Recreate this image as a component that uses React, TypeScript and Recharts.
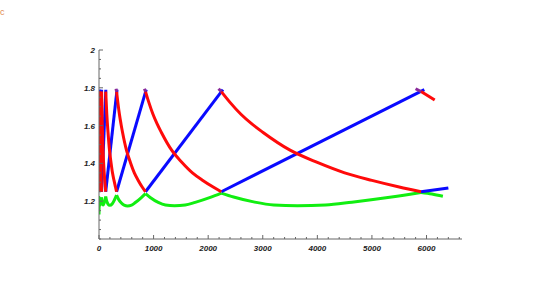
import { LineChart, Line, XAxis, YAxis } from "recharts";

type Pt = { x: number; y: number };

// blue rises linearly from one peak to the next
const blueSegs: Pt[][] = [
  [{ x: 0, y: 1.25 }, { x: 7, y: 1.79 }],
  [{ x: 7, y: 1.25 }, { x: 18, y: 1.79 }],
  [{ x: 18, y: 1.25 }, { x: 47, y: 1.79 }],
  [{ x: 47, y: 1.25 }, { x: 125, y: 1.79 }],
  [{ x: 123, y: 1.25 }, { x: 330, y: 1.79 }],
  [{ x: 322, y: 1.25 }, { x: 865, y: 1.79 }],
  [{ x: 852, y: 1.25 }, { x: 2270, y: 1.79 }],
  [{ x: 2240, y: 1.25 }, { x: 5960, y: 1.79 }],
  [{ x: 5900, y: 1.25 }, { x: 6400, y: 1.27 }],
];

const redSegs: Pt[][] = [
  [{ x: 7, y: 1.78 }, { x: 11, y: 1.5 }, { x: 18, y: 1.25 }],
  [{ x: 18, y: 1.78 }, { x: 25, y: 1.55 }, { x: 33, y: 1.4 }, { x: 47, y: 1.25 }],
  [{ x: 47, y: 1.78 }, { x: 60, y: 1.6 }, { x: 75, y: 1.46 }, { x: 95, y: 1.35 }, { x: 123, y: 1.25 }],
  [
    { x: 123, y: 1.78 }, { x: 143, y: 1.66 }, { x: 165, y: 1.565 }, { x: 192, y: 1.47 },
    { x: 220, y: 1.405 }, { x: 247, y: 1.35 }, { x: 275, y: 1.31 }, { x: 302, y: 1.275 }, { x: 322, y: 1.25 },
  ],
  [
    { x: 322, y: 1.78 }, { x: 345, y: 1.723 }, { x: 374, y: 1.66 }, { x: 403, y: 1.609 }, { x: 431, y: 1.565 },
    { x: 503, y: 1.47 }, { x: 575, y: 1.405 }, { x: 647, y: 1.35 }, { x: 719, y: 1.31 }, { x: 791, y: 1.275 },
    { x: 852, y: 1.25 },
  ],
  [
    { x: 852, y: 1.78 }, { x: 913, y: 1.723 }, { x: 989, y: 1.66 }, { x: 1065, y: 1.609 }, { x: 1141, y: 1.565 },
    { x: 1331, y: 1.47 }, { x: 1521, y: 1.405 }, { x: 1712, y: 1.35 }, { x: 1902, y: 1.31 }, { x: 2092, y: 1.275 },
    { x: 2240, y: 1.25 },
  ],
  [
    { x: 2240, y: 1.78 }, { x: 2400, y: 1.723 }, { x: 2600, y: 1.66 }, { x: 2800, y: 1.609 }, { x: 3000, y: 1.565 },
    { x: 3500, y: 1.47 }, { x: 4000, y: 1.405 }, { x: 4500, y: 1.35 }, { x: 5000, y: 1.31 }, { x: 5500, y: 1.275 },
    { x: 5900, y: 1.25 },
  ],
  [{ x: 5900, y: 1.78 }, { x: 6150, y: 1.735 }],
];

// short purple ticks where red and blue meet at each peak
const peakMarks: Pt[][] = [
  [{ x: 2190, y: 1.795 }, { x: 2240, y: 1.78 }],
  [{ x: 832, y: 1.795 }, { x: 852, y: 1.78 }],
  [{ x: 312, y: 1.795 }, { x: 322, y: 1.78 }],
  [{ x: 5800, y: 1.795 }, { x: 5900, y: 1.78 }],
];

const greenSegs: Pt[][] = [
  [{ x: 0, y: 1.13 }, { x: 4, y: 1.2 }, { x: 7, y: 1.22 }, { x: 12, y: 1.18 }, { x: 18, y: 1.21 }],
  [{ x: 18, y: 1.21 }, { x: 29, y: 1.18 }, { x: 47, y: 1.22 }],
  [{ x: 47, y: 1.22 }, { x: 60, y: 1.19 }, { x: 76, y: 1.18 }, { x: 95, y: 1.19 }, { x: 123, y: 1.225 }],
  [
    { x: 123, y: 1.225 }, { x: 142, y: 1.2 }, { x: 165, y: 1.185 }, { x: 199, y: 1.178 },
    { x: 240, y: 1.185 }, { x: 280, y: 1.205 }, { x: 322, y: 1.232 },
  ],
  [
    { x: 322, y: 1.232 }, { x: 355, y: 1.212 }, { x: 410, y: 1.19 }, { x: 460, y: 1.179 }, { x: 523, y: 1.175 },
    { x: 597, y: 1.179 }, { x: 666, y: 1.193 }, { x: 771, y: 1.218 }, { x: 852, y: 1.24 },
  ],
  [
    { x: 852, y: 1.24 }, { x: 938, y: 1.22 }, { x: 1085, y: 1.194 }, { x: 1217, y: 1.18 }, { x: 1383, y: 1.176 },
    { x: 1579, y: 1.18 }, { x: 1762, y: 1.194 }, { x: 2039, y: 1.22 }, { x: 2240, y: 1.243 },
  ],
  [
    { x: 2240, y: 1.243 }, { x: 2466, y: 1.222 }, { x: 2853, y: 1.195 }, { x: 3200, y: 1.18 }, { x: 3635, y: 1.176 },
    { x: 4150, y: 1.18 }, { x: 4632, y: 1.195 }, { x: 5360, y: 1.222 }, { x: 5900, y: 1.246 },
  ],
  [{ x: 5900, y: 1.246 }, { x: 6100, y: 1.238 }, { x: 6300, y: 1.226 }],
];

const xLabels = [0, 1000, 2000, 3000, 4000, 5000, 6000];
const yLabels = [1.2, 1.4, 1.6, 1.8, 2];
const xTicks = Array.from({ length: 34 }, (_, i) => i * 200);
const yTicks = Array.from({ length: 21 }, (_, i) => +(1 + i * 0.05).toFixed(2));

const axisColor = "#666";
const labelStyle = {
  fontFamily: "Liberation Sans",
  fontSize: 8,
  fontWeight: "bold" as const,
  fontStyle: "italic" as const,
  fill: "#222",
};

const XTick = (props: any) => {
  const { x, y, payload } = props;
  const major = xLabels.includes(payload.value);
  return (
    <g>
      <line x1={x} x2={x} y1={y} y2={y - (major ? 4 : 2)} stroke={axisColor} />
      {major && (
        <text x={x} y={y + 12} textAnchor="middle" {...labelStyle}>
          {payload.value}
        </text>
      )}
    </g>
  );
};

const YTick = (props: any) => {
  const { x, y, payload } = props;
  const major = yLabels.some((v) => Math.abs(v - payload.value) < 1e-6);
  return (
    <g>
      <line x1={x} x2={x + (major ? 4 : 2)} y1={y} y2={y} stroke={axisColor} />
      {major && (
        <text x={x - 4} y={y + 3} textAnchor="end" {...labelStyle}>
          {payload.value}
        </text>
      )}
    </g>
  );
};

document.body.style.margin = "0";

const lineProps = { dataKey: "y", strokeWidth: 3, dot: false, isAnimationActive: false };

export default function App() {
  return (
    <div style={{ position: "relative", width: 553, height: 296, background: "#fff" }}>
      <svg style={{ position: "absolute", left: 0, top: 0 }} width={10} height={20}>
        <text x={0} y={15} fontSize={9} fill="#e08a50" fontFamily="Liberation Sans">
          c
        </text>
      </svg>
      <LineChart width={553} height={296} margin={{ top: 50, right: 91, left: 0, bottom: 0 }}>
        <XAxis
          type="number"
          dataKey="x"
          domain={[0, 6650]}
          ticks={xTicks}
          interval={0}
          height={57}
          tickSize={0}
          tickMargin={0}
          stroke={axisColor}
          tick={<XTick />}
          allowDataOverflow
        />
        <YAxis
          type="number"
          dataKey="y"
          domain={[1, 2]}
          ticks={yTicks}
          interval={0}
          width={99}
          tickSize={0}
          tickMargin={0}
          stroke={axisColor}
          tick={<YTick />}
          allowDataOverflow
        />
        {greenSegs.map((d, i) => (
          <Line key={"g" + i} data={d} type="monotone" stroke="#11ee11" {...lineProps} />
        ))}
        {blueSegs.map((d, i) => (
          <Line key={"b" + i} data={d} type="linear" stroke="#0a0aff" {...lineProps} />
        ))}
        {redSegs.map((d, i) => (
          <Line key={"r" + i} data={d} type="monotone" stroke="#ff0a0a" {...lineProps} />
        ))}
        {peakMarks.map((d, i) => (
          <Line key={"p" + i} data={d} type="linear" stroke="#8a2a9a" {...lineProps} />
        ))}
      </LineChart>
    </div>
  );
}
